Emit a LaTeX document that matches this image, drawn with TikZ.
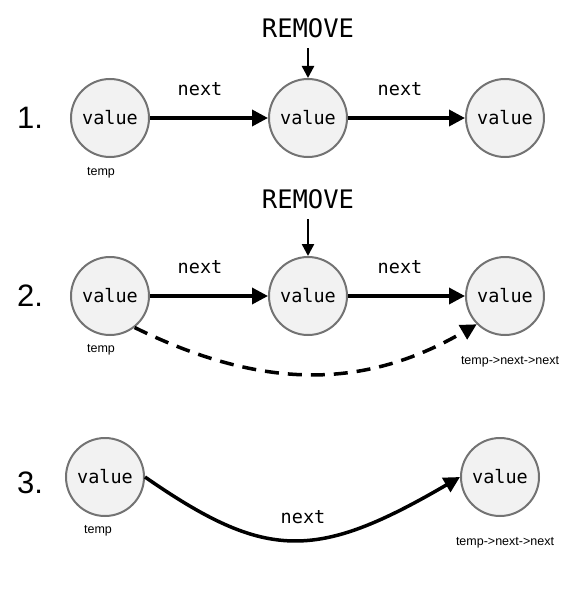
\documentclass[tikz,border=0pt]{standalone}
\usepackage{fontspec}
\setmainfont{Liberation Sans}
\setmonofont{DejaVu Sans Mono}
\usetikzlibrary{positioning}
\usetikzlibrary{arrows.meta}

\begin{document}
\begin{tikzpicture}[x=1pt,y=-1pt,
 val/.style={circle,draw=black!55,line width=2pt,fill=black!5,minimum size=78pt,inner sep=0pt,font=\ttfamily\fontsize{18.5}{18.5}\selectfont},
 lbl/.style={font=\ttfamily\fontsize{18.5}{18.5}\selectfont},
 rm/.style={font=\ttfamily\fontsize{25.5}{25.5}\selectfont},
 num/.style={font=\fontsize{31}{31}\selectfont},
 sm/.style={font=\fontsize{12.5}{12.5}\selectfont},
 nxt/.style={line width=3.5pt,-{Triangle[length=16pt,width=16pt]}},
 rmarr/.style={line width=2.4pt,-{Triangle[length=12pt,width=12pt]},shorten <=7pt}]
 \useasboundingbox (0,0) rectangle (581,594);
 \node[num] (l1) at (30,118) {1.};
 \node[val] (a1) at (110,118) {value};
 \node[val] (b1) at (308,118) {value};
 \node[val] (c1) at (505,118) {value};
 \node[rm] (r1) at (308,28) {REMOVE};
 \node[sm] (t1) at (101,173) {temp};
 \draw[nxt] (a1) -- (b1);
 \node[lbl] (n1) at (200,89) {next};
 \draw[nxt] (b1) -- (c1);
 \node[lbl] (n2) at (400,89) {next};
 \draw[rmarr] (r1) -- (b1);

 \node[num] (l2) at (30,296) {2.};
 \node[val] (a2) at (110,296) {value};
 \node[val] (b2) at (308,296) {value};
 \node[val] (c2) at (505,296) {value};
 \node[rm] (r2) at (308,199) {REMOVE};
 \node[sm] (t2) at (101,350) {temp};
 \node[sm] (u2) at (510,362) {temp->next->next};
 \draw[nxt] (a2) -- (b2);
 \node[lbl] (n3) at (200,267) {next};
 \draw[nxt] (b2) -- (c2);
 \node[lbl] (n4) at (400,267) {next};
 \draw[rmarr] (r2) -- (b2);
 \draw[nxt,dash pattern=on 14pt off 9pt] (a2.-52) .. controls (262,390) and (364,390) .. (c2.225);

 \node[num] (l3) at (30,483) {3.};
 \node[val] (a3) at (105,477) {value};
 \node[val] (c3) at (500,477) {value};
 \node[sm] (t3) at (98,531) {temp};
 \node[sm] (u3) at (505,543) {temp->next->next};
 \draw[nxt] (a3.east) .. controls (266,561) and (316,561) .. (c3.west);
 \node[lbl] (n5) at (303,517) {next};
\end{tikzpicture}
\end{document}
